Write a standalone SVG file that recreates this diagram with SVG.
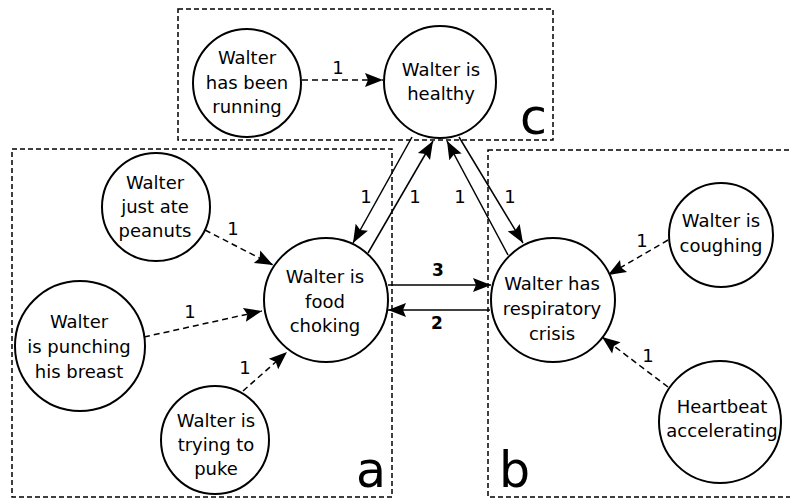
<svg xmlns="http://www.w3.org/2000/svg" width="790" height="499" viewBox="0 0 790 499">
<style>
text{font-family:"DejaVu Sans","Liberation Sans",sans-serif;fill:#000}
.n{font-size:18px;text-anchor:middle}
.l{font-size:18px;text-anchor:middle}
.b{font-size:17px;text-anchor:middle;font-weight:bold}
.big{font-size:49px}
circle{fill:#fff;stroke:#000;stroke-width:2}
.box{fill:none;stroke:#000;stroke-width:1.5;stroke-dasharray:5,3}
.s{stroke:#000;stroke-width:1.5;fill:none;marker-end:url(#ah)}
.d{stroke:#000;stroke-width:1.5;fill:none;stroke-dasharray:6,4;marker-end:url(#ah)}
</style>
<defs>
<marker id="ah" markerUnits="userSpaceOnUse" markerWidth="22" markerHeight="18" viewBox="-20 -9 22 18" refX="0" refY="0" orient="auto">
<path d="M0,0 L-18,-7 L-15,0 L-18,7 Z" fill="#000"/>
</marker>
</defs>
<g id="boxes">
<rect class="box" x="12" y="149" width="380" height="348"/>
<rect class="box" x="488" y="150" width="310" height="347"/>
<rect class="box" x="178" y="9" width="375" height="131"/>
<text class="big" x="356" y="487">a</text>
<text class="big" x="499" y="487">b</text>
<text class="big" x="520" y="134">c</text>
</g>
<g id="connectors">
<path class="d" d="M302,80 L383,80"/>
<text class="l" x="338" y="74">1</text>
<path class="s" d="M412,137 L353,243"/>
<path class="s" d="M368,253 L433,141"/>
<text class="l" x="366" y="203">1</text>
<text class="l" x="415" y="203">1</text>
<path class="s" d="M459,137 L523,243"/>
<path class="s" d="M508,255 L447,141"/>
<text class="l" x="460" y="203">1</text>
<text class="l" x="510" y="203">1</text>
<path class="s" d="M388,285 L491,285"/>
<path class="s" d="M490,310 L388,310"/>
<text class="b" x="438" y="276">3</text>
<text class="b" x="437" y="329">2</text>
<path class="d" d="M205,230 L273,265"/>
<text class="l" x="233" y="235">1</text>
<path class="d" d="M144,337 L262,311"/>
<text class="l" x="190" y="318">1</text>
<path class="d" d="M243,391 L287,352"/>
<text class="l" x="245" y="374">1</text>
<path class="d" d="M668,240 L608,275"/>
<text class="l" x="642" y="247">1</text>
<path class="d" d="M668,387 L602,337"/>
<text class="l" x="648" y="362">1</text>
</g>
<g id="running">
<circle cx="247" cy="83" r="54"/>
<text class="n" x="247" y="64">Walter</text>
<text class="n" x="247" y="89">has been</text>
<text class="n" x="247" y="113">running</text>
</g>
<g id="healthy">
<circle cx="440" cy="82" r="56"/>
<text class="n" x="441" y="76">Walter is</text>
<text class="n" x="441" y="100">healthy</text>
</g>
<g id="peanuts">
<circle cx="156" cy="207" r="54"/>
<text class="n" x="155" y="189">Walter</text>
<text class="n" x="155" y="213">just ate</text>
<text class="n" x="155" y="237">peanuts</text>
</g>
<g id="choking">
<circle cx="326" cy="300" r="62"/>
<text class="n" x="325" y="283">Walter is</text>
<text class="n" x="325" y="308">food</text>
<text class="n" x="325" y="332">choking</text>
</g>
<g id="punching">
<circle cx="80" cy="346" r="65"/>
<text class="n" x="79" y="328">Walter</text>
<text class="n" x="79" y="353">is punching</text>
<text class="n" x="79" y="378">his breast</text>
</g>
<g id="puke">
<circle cx="215" cy="440" r="54"/>
<text class="n" x="216" y="427">Walter is</text>
<text class="n" x="216" y="451">trying to</text>
<text class="n" x="216" y="475">puke</text>
</g>
<g id="respiratory">
<circle cx="553" cy="300" r="62"/>
<text class="n" x="552" y="290">Walter has</text>
<text class="n" x="552" y="315">respiratory</text>
<text class="n" x="552" y="340">crisis</text>
</g>
<g id="coughing">
<circle cx="721" cy="235" r="52"/>
<text class="n" x="721" y="227">Walter is</text>
<text class="n" x="721" y="252">coughing</text>
</g>
<g id="heartbeat">
<circle cx="720" cy="422" r="61"/>
<text class="n" x="722" y="413">Heartbeat</text>
<text class="n" x="722" y="437">accelerating</text>
</g>
</svg>
